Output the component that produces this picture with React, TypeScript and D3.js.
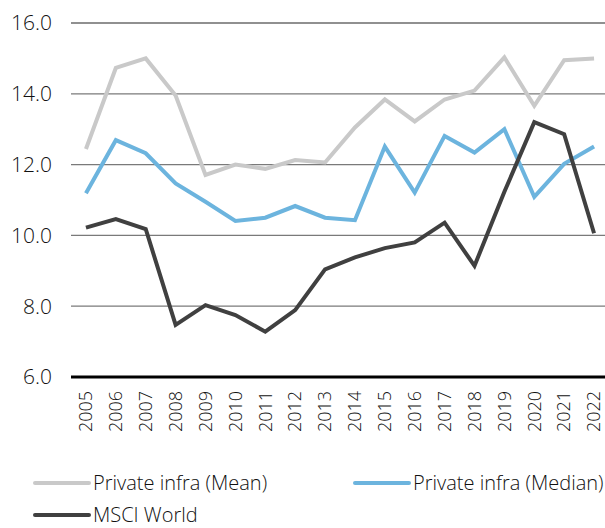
import React, { useEffect, useRef } from "react";
import * as d3 from "d3";

const years = ["2005", "2006", "2007", "2008", "2009", "2010", "2011", "2012", "2013", "2014", "2015", "2016", "2017", "2018", "2019", "2020", "2021", "2022"];
const meanValues = [12.44, 14.73, 15.0, 13.95, 11.71, 12.0, 11.88, 12.13, 12.06, 13.05, 13.84, 13.22, 13.84, 14.09, 15.03, 13.66, 14.95, 15.0];
const medianValues = [11.19, 12.69, 12.32, 11.47, 10.95, 10.41, 10.5, 10.83, 10.5, 10.43, 12.51, 11.21, 12.81, 12.34, 13.0, 11.09, 12.02, 12.51];
const msciValues = [10.22, 10.46, 10.18, 7.47, 8.03, 7.75, 7.28, 7.89, 9.04, 9.38, 9.64, 9.8, 10.36, 9.14, 11.23, 13.2, 12.86, 10.06];
const yTicks = [6, 8, 10, 12, 14, 16];

const seriesNames = ["Private infra (Mean)", "Private infra (Median)", "MSCI World"];
const seriesColors = ["#c9c9c9", "#6cb4de", "#404040"];

const W = 605;
const H = 528;
const FONT = "'Open Sans', sans-serif";

const App = () => {
  const svgRef = useRef<SVGSVGElement>(null);

  useEffect(() => {
    const svg = d3.select(svgRef.current);
    svg.selectAll("*").remove();

    const x = d3.scaleBand().domain(years).range([71, 609]);
    const y = d3.scaleLinear().domain([6, 16]).range([377, 23]);
    const cx = (d: string) => (x(d) ?? 0) + x.bandwidth() / 2;

    // grid lines
    svg
      .append("g")
      .selectAll("line")
      .data(yTicks)
      .join("line")
      .attr("x1", 71)
      .attr("x2", 609)
      .attr("y1", (d) => y(d))
      .attr("y2", (d) => y(d))
      .attr("stroke", (d) => (d === 6 ? "#000" : d === 16 ? "#222" : "#7a7a7a"))
      .attr("stroke-width", (d) => (d === 6 ? 3 : 1.2));

    // y labels
    svg
      .append("g")
      .selectAll("text")
      .data(yTicks)
      .join("text")
      .attr("x", 52)
      .attr("y", (d) => y(d))
      .attr("dy", "0.35em")
      .attr("text-anchor", "end")
      .attr("font-family", FONT)
      .attr("font-weight", 300)
      .attr("font-size", 21)
      .attr("fill", "#111")
      .text((d) => d.toFixed(1));

    // x labels
    svg
      .append("g")
      .selectAll("text")
      .data(years)
      .join("text")
      .attr("transform", (d) => `translate(${cx(d)},391) rotate(-90)`)
      .attr("dy", "0.35em")
      .attr("text-anchor", "end")
      .attr("font-family", FONT)
      .attr("font-weight", 300)
      .attr("font-size", 18)
      .attr("fill", "#111")
      .text((d) => d);

    const line = d3
      .line<number>()
      .x((_, i) => cx(years[i]))
      .y((d) => y(d));

    [meanValues, medianValues, msciValues].forEach((vals, i) => {
      svg
        .append("path")
        .datum(vals)
        .attr("d", line)
        .attr("fill", "none")
        .attr("stroke", seriesColors[i])
        .attr("stroke-width", 4)
        .attr("stroke-linejoin", "miter");
    });

    // legend
    const legendPos = [
      { x: 35, y: 483 },
      { x: 355, y: 483 },
      { x: 35, y: 515 },
    ];
    const lg = svg
      .append("g")
      .selectAll("g")
      .data(seriesNames)
      .join("g")
      .attr("transform", (_, i) => `translate(${legendPos[i].x},${legendPos[i].y})`);
    lg.append("line")
      .attr("x1", 0)
      .attr("x2", 54)
      .attr("stroke", (_, i) => seriesColors[i])
      .attr("stroke-width", 4)
      .attr("stroke-linecap", "round");
    lg.append("text")
      .attr("x", 58)
      .attr("dy", "0.35em")
      .attr("font-family", FONT)
      .attr("font-weight", 300)
      .attr("font-size", 20)
      .attr("fill", "#111")
      .text((d) => d);
  }, []);

  return (
    <svg
      ref={svgRef}
      width={W}
      height={H}
      style={{ position: "absolute", left: 0, top: 0, background: "#fff" }}
    ></svg>
  );
};

export default App;
